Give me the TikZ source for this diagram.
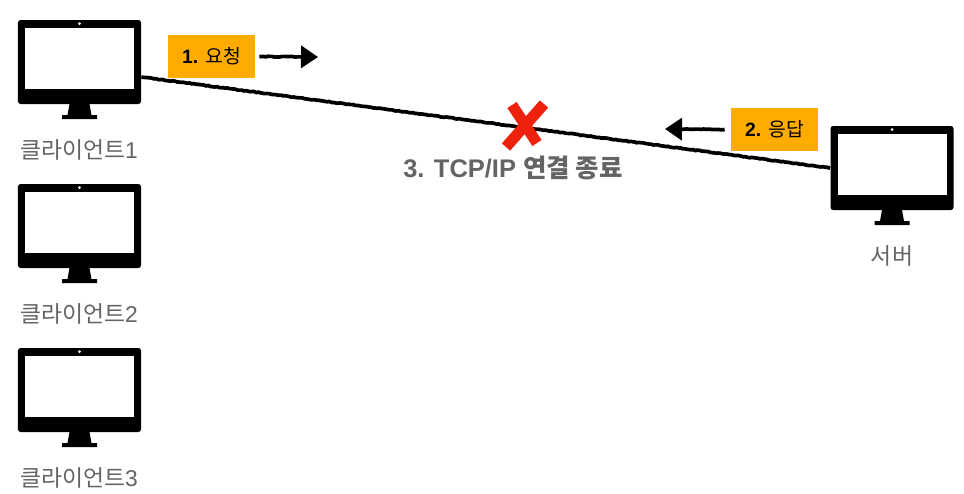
\documentclass[tikz,border=0pt]{standalone}
\usepackage{fontspec}
\setmainfont{Liberation Sans}
\newfontfamily\cjk{Noto Sans CJK KR}
\usepackage{xcolor}
\usetikzlibrary{positioning,arrows.meta,calc,decorations.pathmorphing}
\definecolor{tagorange}{RGB}{255,171,0}
\definecolor{labelgray}{RGB}{100,100,100}
\definecolor{crossred}{RGB}{238,34,12}
\tikzset{
  body/.style={rectangle, fill=black, rounded corners=1.5pt, minimum width=2.46cm, minimum height=1.68cm, inner sep=0pt},
  pclabel/.style={font=\fontsize{13pt}{15pt}\selectfont\cjk, text=labelgray, inner sep=0pt},
  tag/.style={rectangle, fill=tagorange, minimum width=1.74cm, minimum height=0.86cm, inner sep=0pt, font=\fontsize{11pt}{13pt}\selectfont},
  rough/.style={decorate, decoration={random steps, segment length=1.2pt, amplitude=.22pt, post length=1pt}, line width=2.1pt, draw=black},
  roughcue/.style={rough, decoration={post length=4mm}, -{Triangle[length=3.4mm, width=4.4mm]}},
  monitor/.pic={
    \node[body] (body) at (0,0) {};
    \fill[white] (-1.09,0.68) rectangle (1.09,-0.54);
    \fill[white] (0,0.77) circle (0.03);
    \fill[black] (-0.2,-0.84) -- (0.2,-0.84) -- (0.24,-1.06) -- (0.35,-1.06) -- (0.35,-1.14) -- (-0.35,-1.14) -- (-0.35,-1.06) -- (-0.24,-1.06) -- cycle;
  },
}
\begin{document}
\begin{tikzpicture}
    \useasboundingbox (0,0) rectangle (19.28,-9.86);
    % three clients down the left side
    \foreach \i/\y in {1/-1.24, 2/-4.52, 3/-7.80}{
      \pic (client\i) at (1.59,\y) {monitor};
      \node[pclabel] (clientlabel\i) at (1.58,\y-1.76) {클라이언트\textrm{\i}};
    }
    \pic (server) at (17.84,-3.36) {monitor};
    \node[pclabel] (serverlabel) at (17.84,-5.11) {서버};

    \draw[rough] ([yshift=-0.3cm]client1body.east) -- (serverbody.west);

    \node[tag] (request) at (4.23,-1.13) {\textbf{1.} {\cjk 요청}};
    \node[tag] (response) at (15.49,-2.59) {\textbf{2.} {\cjk 응답}};
    \coordinate (requesttip) at (6.36,-1.14);
    \coordinate (responsetip) at (13.3,-2.58);
    \draw[roughcue] ([xshift=0.08cm]request.east) -- (requesttip);
    \draw[roughcue] ([xshift=-0.12cm]response.west) -- (responsetip);

    % red cross on the line
    \coordinate (cross) at (10.5,-2.5);
    \draw[crossred, line width=0.22cm] ($(cross)+(-0.26,0.4)$) -- ($(cross)+(0.24,-0.36)$);
    \draw[crossred, line width=0.22cm] ($(cross)+(0.38,0.42)$) -- ($(cross)+(-0.38,-0.44)$);

    \node[font=\fontsize{14.5pt}{17pt}\selectfont\bfseries, text=labelgray, inner sep=0pt] (closing) at (10.26,-3.36) {3. TCP/IP {\cjk 연결 종료}};
  \end{tikzpicture}
\end{document}
